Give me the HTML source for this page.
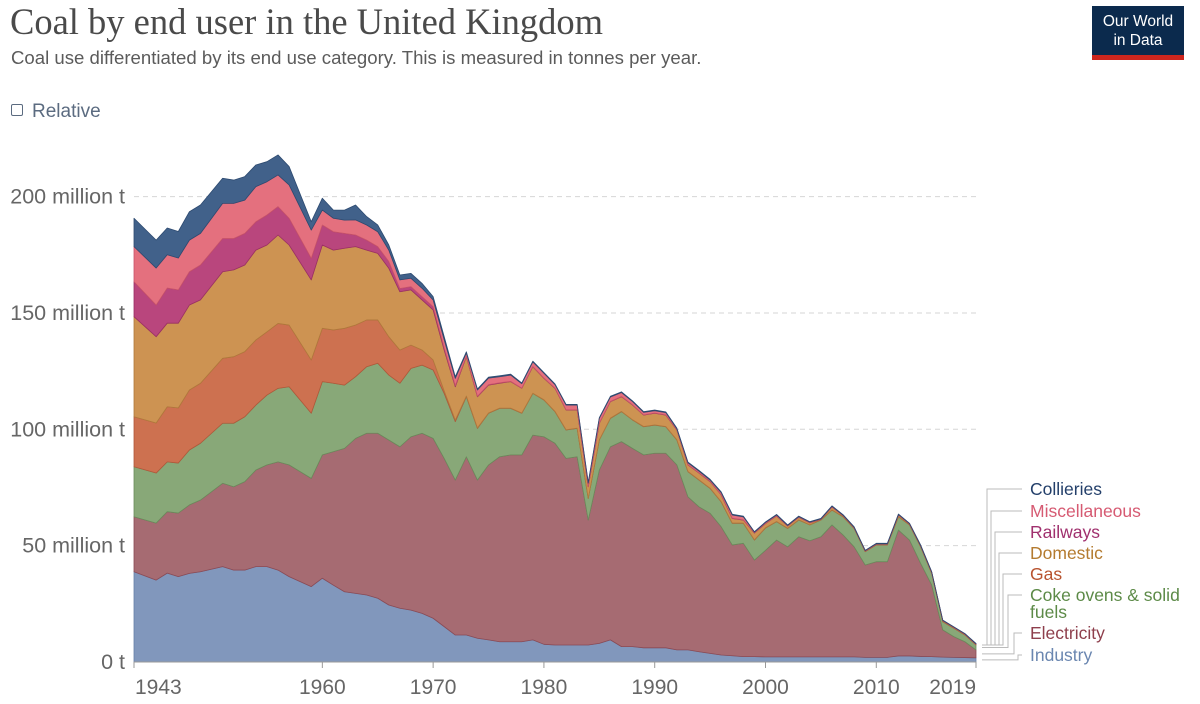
<!DOCTYPE html>
<html><head><meta charset="utf-8"><style>
body{margin:0;background:#fff;width:1200px;height:704px;overflow:hidden;font-family:"Liberation Sans",sans-serif}
.title{position:absolute;left:10px;top:0px;font-family:"Liberation Serif",serif;font-size:36.5px;color:#4a4a4a}
.sub{position:absolute;left:11px;top:47px;font-size:18.6px;color:#5b5b5b}
.rel{position:absolute;left:11px;top:101px;font-size:19px;color:#5b6b80}
.rel span.box{display:inline-block;width:10px;height:10px;border:1.5px solid #5b6b80;border-radius:2px;margin-right:9px;vertical-align:1px}
.logo{position:absolute;left:1092px;top:6px;width:92px;height:54px;background:#0b2a4d;color:#fff;font-size:15.5px;text-align:center;line-height:19px;padding-top:6px;box-sizing:border-box}
.logo:after{content:"";position:absolute;left:0;bottom:0;width:92px;height:5px;background:#ce261e}
</style></head><body>
<div class="title">Coal by end user in the United Kingdom</div>
<div class="sub">Coal use differentiated by its end use category. This is measured in tonnes per year.</div>
<div class="rel"><span class="box"></span>Relative</div>
<div class="logo">Our World<br>in Data</div>
<svg id="chart" width="1200" height="704" style="position:absolute;left:0;top:0"></svg>
<script>
const years=[1943,1945,1946,1947,1948,1949,1951,1952,1953,1954,1955,1956,1957,1959,1960,1961,1962,1963,1964,1965,1966,1967,1968,1969,1970,1971,1972,1973,1974,1975,1976,1977,1978,1979,1980,1981,1982,1983,1984,1985,1986,1987,1988,1989,1990,1991,1992,1993,1994,1995,1996,1997,1998,1999,2000,2001,2002,2003,2004,2005,2006,2007,2008,2009,2010,2011,2012,2013,2014,2015,2016,2017,2018,2019];
const industry=[38.8,35.2,38.2,36.7,38.1,38.8,41.0,39.5,39.5,41.0,41.0,39.5,36.7,32.4,36.0,33.0,30.2,29.5,28.8,27.4,24.5,23.1,22.3,20.9,18.8,15.2,11.6,11.6,10.2,9.5,8.7,8.7,8.7,9.5,7.6,7.3,7.3,7.3,7.3,8.0,9.5,6.6,6.6,6.1,6.1,6.1,5.2,5.2,4.4,3.7,3.0,2.7,2.3,2.3,2.2,2.2,2.2,2.2,2.2,2.2,2.2,2.2,2.2,2.0,2.0,2.0,2.6,2.6,2.4,2.3,2.1,2.0,1.9,1.8];
const electricity=[23.6,24.5,26.4,27.3,29.4,30.8,35.8,35.8,38.0,41.5,43.7,46.5,48.0,46.5,53.0,57.4,61.6,66.6,69.5,70.9,70.9,69.4,74.5,77.4,77.3,72.3,66.6,76.6,68.0,75.2,79.5,80.3,80.3,88.0,89.2,86.7,80.2,80.9,53.7,74.5,83.0,88.1,85.2,82.9,83.6,83.6,79.5,65.8,62.3,60.2,55.1,47.6,48.7,41.5,45.8,50.2,47.3,51.6,49.9,51.6,56.7,52.4,47.3,39.7,41.1,41.1,54.1,49.8,40.0,30.8,11.7,8.9,6.8,3.4];
const coke=[21.5,21.5,21.4,21.5,23.6,24.4,25.8,27.3,27.9,27.9,30.0,31.6,33.6,28.0,31.5,29.4,27.2,26.5,28.6,30.1,27.9,27.3,29.4,29.3,29.4,27.9,25.1,25.8,22.2,22.2,20.8,20.0,17.9,17.9,15.8,13.6,12.2,12.2,9.3,12.9,12.2,12.9,12.2,12.1,12.1,11.4,10.7,10.8,11.5,10.7,10.7,9.3,8.6,8.6,9.6,7.9,7.9,7.2,6.8,7.2,6.4,7.8,7.9,5.7,7.2,7.2,5.7,6.5,7.1,5.0,3.5,3.6,2.9,2.1];
const gas=[21.5,21.5,23.7,23.7,25.8,25.8,27.9,28.6,28.0,28.0,27.2,27.9,26.5,22.9,22.9,22.9,24.4,22.2,20.1,18.6,16.5,14.3,10.0,6.5,4.3,1.1,0.7,0.3,0.2,0.1,0.1,0.1,0.1,0.1,0.1,0.1,0.1,0.1,0.1,0.1,0.1,0.1,0.1,0.1,0.1,0.1,0.1,0.1,0.1,0.1,0.1,0.1,0.1,0.1,0.1,0.1,0.1,0.1,0.1,0.1,0.1,0.1,0.1,0.1,0.1,0.1,0.1,0.1,0.1,0.1,0.1,0.1,0.1,0.1];
const domestic=[43.0,37.1,35.9,36.4,36.5,35.8,37.2,37.3,37.2,38.6,37.3,38.0,34.4,34.4,35.8,34.3,34.4,33.7,30.0,28.6,29.4,25.0,23.7,21.5,21.5,17.5,14.3,16.9,13.4,12.0,10.7,11.4,10.6,11.4,9.2,9.9,8.5,7.8,4.9,7.1,7.1,6.3,6.3,4.9,5.0,4.9,4.2,2.8,2.9,2.8,2.9,2.0,1.3,2.9,1.8,2.3,0.9,1.1,0.8,0.2,1.2,0.4,0.2,0.2,0.2,0.2,0.7,0.3,0.3,0.3,0.3,0.2,0.2,0.2];
const railways=[15.0,13.6,15.1,14.3,14.3,15.0,14.3,13.5,13.6,12.2,12.9,12.2,11.5,9.3,8.6,7.9,6.4,5.0,4.3,2.9,2.9,1.4,1.4,1.4,1.4,1.0,0.5,0.2,0.2,0.2,0.2,0.1,0.1,0.1,0.1,0.1,0.1,0.1,0.1,0.1,0.1,0.1,0.1,0.1,0.1,0.1,0.1,0.1,0.1,0.1,0.1,0.1,0.1,0.1,0.1,0.1,0.1,0.1,0.1,0.1,0.1,0.1,0.1,0.1,0.1,0.1,0.1,0.1,0.1,0.1,0.1,0.1,0.1,0.1];
const miscellaneous=[15.1,15.9,14.3,13.7,13.6,13.6,15.1,15.1,14.3,15.1,14.3,13.6,14.3,12.1,6.4,5.8,5.7,6.5,6.5,6.4,4.9,3.7,3.6,3.6,2.9,3.5,3.1,1.4,2.7,2.8,2.6,2.7,1.9,2.0,2.1,1.5,2.0,2.0,1.5,2.0,1.9,1.7,1.4,1.1,1.0,1.0,0.4,0.8,0.7,0.6,0.9,1.4,1.3,0.3,0.4,0.4,0.2,0.2,0.2,0.1,0.2,0.1,0.1,0.1,0.1,0.1,0.1,0.1,0.1,0.1,0.1,0.1,0.1,0.1];
const collieries=[12.2,12.0,11.5,11.4,12.2,12.2,10.8,10.0,10.1,9.3,8.6,8.6,7.9,3.6,5.1,3.5,4.3,6.4,3.6,2.9,2.2,2.1,2.1,2.1,1.4,1.3,0.7,0.5,0.4,0.4,0.4,0.4,0.3,0.3,0.3,0.3,0.3,0.3,0.3,0.3,0.3,0.3,0.3,0.3,0.3,0.3,0.3,0.3,0.3,0.3,0.3,0.3,0.3,0.2,0.2,0.2,0.2,0.2,0.2,0.2,0.2,0.2,0.2,0.1,0.2,0.2,0.2,0.1,0.2,0.1,0.1,0.1,0.1,0.2];
const seriesNames=["Industry","Electricity","Coke ovens & solid fuels","Gas","Domestic","Railways","Miscellaneous","Collieries"];
const yTicks=[0,50,100,150,200];
const xTicks=[1943,1960,1970,1980,1990,2000,2010,2019];

const NS="http://www.w3.org/2000/svg";
const svg=document.getElementById('chart');
const X0=134,X1=976,Y0=662,YPX=2.327;
const xs=y=>X0+(y-1943)*(X1-X0)/(2019-1943);
const ys=v=>Y0-v*YPX;
function mk(t,a){const e=document.createElementNS(NS,t);for(const k in a)e.setAttribute(k,a[k]);svg.appendChild(e);return e;}
const series=[industry,electricity,coke,gas,domestic,railways,miscellaneous,collieries];
const fills=["#8197bc","#a66b72","#88a878","#cd7150","#cd9352","#b9467d","#e4707e","#41618a"];
const strokes=["#6680a8","#8a4a55","#6b8c5c","#b0583a","#b07a3c","#9a2f65","#c9546a","#2d4a70"];
const legendCols=["#6a86b0","#8e3f4c","#5c8a47","#b8532f","#b47b30","#a0306e","#d65a72","#233f6a"];
yTicks.forEach(v=>{
  if(v>0){const g=mk('line',{x1:X0,x2:X1,y1:ys(v),y2:ys(v),stroke:'#d6d6d6','stroke-dasharray':'5,4'});
  
  }
  const t=mk('text',{x:125,y:ys(v)+7,'text-anchor':'end','font-size':21.5,fill:'#666','font-family':'Liberation Sans, sans-serif'});
  t.textContent=v===0?'0 t':v+' million t';
  
  
});
const base=years.map(()=>0);
series.forEach((s,i)=>{
  const top=base.map((b,j)=>b+s[j]);
  let d='M'+years.map((y,j)=>xs(y)+','+ys(top[j])).join(' L');
  for(let j=years.length-1;j>=0;j--)d+=' L'+xs(years[j])+','+ys(base[j]);
  const p=mk('path',{d:d+'Z',fill:fills[i],stroke:strokes[i],'stroke-width':0.8,'stroke-linejoin':'round'});
  
  
  for(let j=0;j<base.length;j++)base[j]=top[j];
});
const ax=mk('line',{x1:X0,x2:X1,y1:Y0,y2:Y0,stroke:'#999'});


xTicks.forEach((y,i)=>{
  const tk=mk('line',{x1:xs(y),x2:xs(y),y1:Y0,y2:Y0+6,stroke:'#999'});
  
  
  const anchor=i===0?'start':(i===xTicks.length-1?'end':'middle');
  const t=mk('text',{x:xs(y)+(i===0?1:0),y:694,'text-anchor':anchor,'font-size':21,fill:'#666','font-family':'Liberation Sans, sans-serif'});
  t.textContent=y;
  
  
});
const labelY=[655,633,595,574,553,532,511,489];
const elbowX=[1018,1014,1008,1003,999,995,991,987];
const last=years.length-1;let cum=0;
series.forEach((s,i)=>{
  const mid=ys(cum+s[last]/2);cum+=s[last];
  const sy=Math.min(660,Math.max(645,mid));
  const ln=mk('polyline',{points:`982,${sy} ${elbowX[i]},${sy} ${elbowX[i]},${labelY[i]} 1022,${labelY[i]}`,fill:'none',stroke:'#bbb','stroke-width':1});
  
  
  const t=mk('text',{x:1030,y:labelY[i]+6,'font-size':17.5,fill:legendCols[i],'font-family':'Liberation Sans, sans-serif'});
  if(i===2){t.textContent='Coke ovens & solid';
    const t2=mk('text',{x:1030,y:labelY[i]+23,'font-size':17.5,fill:legendCols[i],'font-family':'Liberation Sans, sans-serif'});
    t2.textContent='fuels';
    
    }
  else t.textContent=seriesNames[i];
  
  
});
</script>
</body></html>
